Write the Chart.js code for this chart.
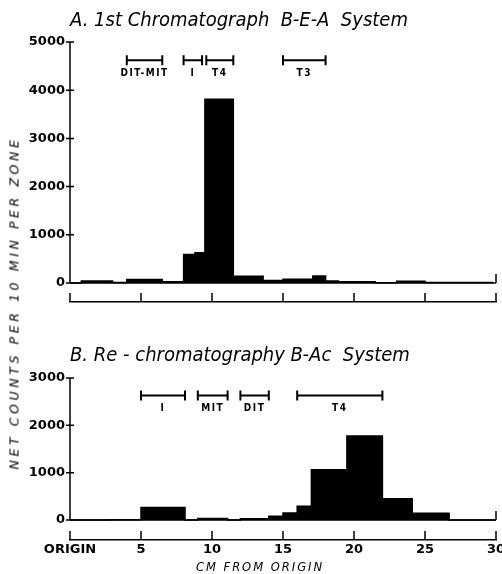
<!DOCTYPE html>
<html>
<head>
<meta charset="utf-8">
<script src="https://cdn.jsdelivr.net/npm/chart.js@4.4.1/dist/chart.umd.min.js"></script>
<style>
  html, body { margin: 0; padding: 0; background: #fff; }
  #wrap { position: relative; width: 502px; height: 574px; overflow: hidden; }
  canvas { position: absolute; left: 0; }
  .title { position: absolute; left: 70px; font-family: "Liberation Sans Narrow", "DejaVu Sans Condensed", sans-serif;
           font-style: italic; font-size: 20px; white-space: pre; color: #000; }
  #ytitle { position: absolute; left: 14px; top: 303px; transform: translate(-50%, -50%) rotate(-90deg);
            font-family: "DejaVu Sans", sans-serif; font-style: italic; font-size: 12.5px; letter-spacing: 3.6px;
            white-space: nowrap; color: #000; }
  #xtitle { position: absolute; left: 260px; top: 567px; transform: translate(-50%, -50%);
            font-family: "DejaVu Sans", sans-serif; font-style: italic; font-size: 11.5px; letter-spacing: 2px;
            white-space: nowrap; color: #000; }
</style>
</head>
<body>
<div id="wrap">
  <canvas id="chartA" width="502" height="320" style="top:0px"></canvas>
  <canvas id="chartB" width="502" height="244" style="top:330px"></canvas>
  <div class="title" style="top:7px">A. 1st Chromatograph  B-E-A  System</div>
  <div class="title" style="top:342px">B. Re - chromatography B-Ac  System</div>
  <div id="ytitle">NET COUNTS PER 10 MIN PER ZONE</div>
  <div id="xtitle">CM  FROM  ORIGIN</div>
</div>
<script>
// --- data: zone edges (cm) and net counts per zone ---
const edgesA  = [0, 0.8, 3, 4, 6.5, 8, 8.8, 9.5, 11.5, 13.6, 15, 17.1, 18, 18.9, 21.5, 23, 25, 29.8];
const countsA = [0, 40, 10, 75, 25, 590, 630, 3810, 140, 50, 80, 145, 40, 25, 5, 35, 10];

const edgesB  = [0, 2.8, 5, 8.1, 9, 11.1, 12, 14, 15, 16, 17, 19.5, 22, 24.1, 26.7, 30];
const countsB = [0, 5, 265, 0, 30, 0, 25, 80, 150, 290, 1060, 1775, 450, 140, 0];

// tick labels
const xTicks      = [0, 5, 10, 15, 20, 25, 30];
const xTickLabels = ['ORIGIN', '5', '10', '15', '20', '25', '30'];
const yTicksA     = [0, 1000, 2000, 3000, 4000, 5000];
const yTicksB     = [0, 1000, 2000, 3000];

// zone markers above the peaks
const markLabelsA = ['DIT-MIT', 'I', 'T4', 'T3'];
const markFromA   = [4, 8, 9.6, 15];
const markToA     = [6.5, 9.3, 11.5, 18];
const markLabelsB = ['I', 'MIT', 'DIT', 'T4'];
const markFromB   = [5, 9, 12, 16];
const markToB     = [8.1, 11.1, 14, 22];

function steps(edges, counts) {
    const pts = counts.map((c, i) => ({ x: edges[i], y: c }));
    pts.push({ x: edges[edges.length - 1], y: counts[counts.length - 1] });
    return pts;
}

// axis decorations: y line down to zero, ticks, baseline, upward ticks on the x scale, markers
const decor = {
    id: 'decor',
    afterDraw(chart, args, opts) {
        const { ctx, chartArea: { left, right, bottom }, scales: { x, y } } = chart;
        const y0 = y.getPixelForValue(0);
        ctx.save();
        ctx.strokeStyle = '#000';
        ctx.lineWidth = 1.5;
        ctx.beginPath();
        // y axis line
        ctx.moveTo(left, y.getPixelForValue(opts.yMax));
        ctx.lineTo(left, y0);
        // y ticks
        opts.yTicks.forEach(v => {
            const p = y.getPixelForValue(v);
            ctx.moveTo(left - 4, p);
            ctx.lineTo(left + 4, p);
        });
        // baseline and right end tick
        ctx.moveTo(left, y0);
        ctx.lineTo(right, y0);
        ctx.moveTo(right, y0);
        ctx.lineTo(right, y0 - 9);
        // upward ticks on the detached cm scale
        xTicks.forEach(v => {
            const p = x.getPixelForValue(v);
            ctx.moveTo(p, bottom);
            ctx.lineTo(p, bottom - 9);
        });
        ctx.stroke();

        // zone markers
        const my = y.getPixelForValue(opts.markY);
        ctx.lineWidth = 2;
        ctx.font = 'bold 10px "Liberation Sans Narrow", "DejaVu Sans Condensed", sans-serif';
        ctx.letterSpacing = '1.5px';
        ctx.textAlign = 'center';
        ctx.textBaseline = 'middle';
        ctx.fillStyle = '#000';
        opts.labels.forEach((lab, i) => {
            const a = x.getPixelForValue(opts.from[i]);
            const b = x.getPixelForValue(opts.to[i]);
            ctx.beginPath();
            ctx.moveTo(a, my); ctx.lineTo(b, my);
            ctx.moveTo(a, my - 5); ctx.lineTo(a, my + 5);
            ctx.moveTo(b, my - 5); ctx.lineTo(b, my + 5);
            ctx.stroke();
            ctx.fillText(lab, (a + b) / 2, my + 13);
        });
        ctx.restore();
    }
};

function makeChart(id, edges, counts, cfg) {
    const ctx = document.getElementById(id).getContext('2d');
    return new Chart(ctx, {
        type: 'line',
        data: {
            datasets: [{
                data: steps(edges, counts),
                stepped: 'before',
                borderColor: '#000',
                borderWidth: 1.5,
                backgroundColor: '#000',
                fill: { value: 0 },
                pointRadius: 0,
                tension: 0
            }]
        },
        options: {
            responsive: false,
            animation: false,
            events: [],
            layout: { padding: { top: cfg.padTop, left: 0, right: 6, bottom: 0 } },
            plugins: {
                legend: { display: false },
                tooltip: { enabled: false },
                decor: cfg.decor
            },
            scales: {
                x: {
                    type: 'linear',
                    min: 0,
                    max: 30,
                    grid: { display: false, drawTicks: false },
                    border: { display: true, color: '#000', width: 1.5 },
                    afterBuildTicks: s => { s.ticks = xTicks.map(v => ({ value: v })); },
                    afterFit: s => { s.height = cfg.xHeight; s.paddingLeft = 0; s.paddingRight = 0; },
                    ticks: {
                        display: cfg.xLabels,
                        autoSkip: false,
                        maxRotation: 0,
                        padding: 2,
                        color: '#000',
                        font: { family: '"DejaVu Sans", sans-serif', size: 13, weight: 'bold' },
                        callback: v => xTickLabels[xTicks.indexOf(v)]
                    }
                },
                y: {
                    min: cfg.yMin,
                    max: cfg.decor.yMax,
                    grid: { display: false, drawTicks: false },
                    border: { display: false },
                    afterBuildTicks: s => { s.ticks = cfg.decor.yTicks.map(v => ({ value: v })); },
                    afterFit: s => { s.width = 70; },
                    ticks: {
                        padding: 5,
                        color: '#000',
                        font: { family: '"DejaVu Sans", sans-serif', size: 13, weight: 'bold' },
                        callback: v => String(v)
                    }
                }
            }
        },
        plugins: [decor]
    });
}

makeChart('chartA', edgesA, countsA, {
    padTop: 42, xHeight: 18, xLabels: false, yMin: -394,
    decor: { yMax: 5000, yTicks: yTicksA, markY: 4620, labels: markLabelsA, from: markFromA, to: markToA }
});

makeChart('chartB', edgesB, countsB, {
    padTop: 48, xHeight: 34, xLabels: true, yMin: -423,
    decor: { yMax: 3000, yTicks: yTicksB, markY: 2630, labels: markLabelsB, from: markFromB, to: markToB }
});
</script>
</body>
</html>
